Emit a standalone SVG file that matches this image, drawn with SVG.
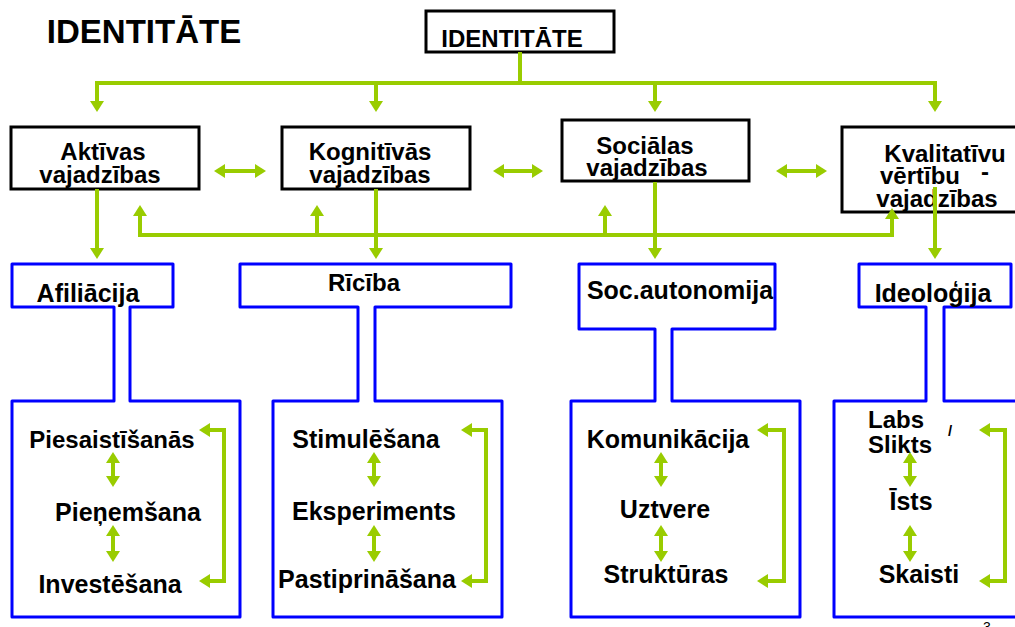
<svg xmlns="http://www.w3.org/2000/svg" width="1015" height="627" viewBox="0 0 1015 627">
<style>
  text { font-family: "Liberation Sans", Arial, sans-serif; font-weight: bold; fill: #000; }
  .t24 { font-size: 24px; }
  .t25 { font-size: 25px; }
  .mid { text-anchor: middle; }
  .bbox { fill: #fff; stroke: #000; stroke-width: 3; }
  .blue { fill: #fff; stroke: #0000ff; stroke-width: 3; stroke-linejoin: round; }
  .g { fill: none; stroke: #99cc00; stroke-width: 4; }
  .ga { fill: none; stroke: #99cc00; stroke-width: 4; marker-end: url(#ah); }
  .gd { fill: none; stroke: #99cc00; stroke-width: 4; marker-start: url(#ah); marker-end: url(#ah); }
</style>
<defs>
  <marker id="ah" markerUnits="userSpaceOnUse" markerWidth="11" markerHeight="14" refX="1" refY="7" orient="auto-start-reverse" viewBox="0 0 11 14">
    <path d="M0,0 L11,7 L0,14 Z" fill="#99cc00"/>
  </marker>
</defs>
<rect width="1015" height="627" fill="#fff"/>

<g id="title">
  <text x="144" y="43" class="mid" style="font-size:33px">IDENTITĀTE</text>
</g>

<g id="identitate">
  <rect x="426" y="11" width="188" height="41" class="bbox"/>
  <text x="512" y="47" class="t24 mid">IDENTITĀTE</text>
</g>

<g id="aktivas">
  <rect x="11" y="127" width="188" height="62" class="bbox"/>
  <text x="103" y="160" class="t24 mid">Aktīvas</text>
  <text x="100" y="183" class="t24 mid">vajadzības</text>
</g>

<g id="kognitivas">
  <rect x="282" y="127" width="188" height="62" class="bbox"/>
  <text x="370" y="160" class="t24 mid">Kognitīvās</text>
  <text x="370" y="183" class="t24 mid">vajadzības</text>
</g>

<g id="socialas">
  <rect x="562" y="120" width="187" height="61" class="bbox"/>
  <text x="645" y="154" class="t24 mid">Sociālas</text>
  <text x="647" y="176" class="t24 mid">vajadzības</text>
</g>

<g id="kvalitativu">
  <rect x="842" y="127" width="180" height="85" class="bbox"/>
  <text x="945" y="162" class="t24 mid">Kvalitatīvu</text>
  <text x="880" y="184" class="t24">vērtību</text>
  <text x="985" y="180" class="t24 mid">-</text>
  <text x="937" y="207" class="t24 mid">vajadzības</text>
</g>

<g id="afiliacija">
  <path d="M12,264 H173 V307 H130 V401 H240 V617 H12 V401 H114 V307 H12 Z" class="blue"/>
  <text x="88" y="302" class="t25 mid">Afiliācija</text>
  <text x="112" y="448" class="t24 mid">Piesaistīšanās</text>
  <text x="128" y="521" class="t25 mid">Pieņemšana</text>
  <text x="110" y="593" class="t25 mid">Investēšana</text>
</g>

<g id="riciba">
  <path d="M240,264 H511 V307 H375 V401 H502 V617 H273 V401 H358 V307 H240 Z" class="blue"/>
  <text x="364" y="291" class="t24 mid">Rīcība</text>
  <text x="366" y="448" class="t25 mid">Stimulēšana</text>
  <text x="374" y="520" class="t25 mid">Eksperiments</text>
  <text x="367" y="588" class="t25 mid">Pastiprināšana</text>
</g>

<g id="socautonomija">
  <path d="M579,264 H775 V329 H672 V401 H800 V617 H571 V401 H655 V329 H579 Z" class="blue"/>
  <text x="680" y="299" class="t25 mid">Soc.autonomija</text>
  <text x="668" y="448" class="t25 mid">Komunikācija</text>
  <text x="665" y="518" class="t25 mid">Uztvere</text>
  <text x="666" y="583" class="t25 mid">Struktūras</text>
</g>

<g id="ideologija">
  <path d="M859,264 H1011 V307 H944 V401 H1022 V617 H834 V401 H926 V307 H859 Z" class="blue"/>
  <text x="933" y="302" class="t25 mid">Ideoloģija</text>
  <text x="868" y="428" class="t24">Labs</text>
  <text x="950" y="436" class="mid" style="font-size:15px">/</text>
  <text x="868" y="453" class="t24">Slikts</text>
  <text x="911" y="510" class="t25 mid">Īsts</text>
  <text x="919" y="583" class="t25 mid">Skaisti</text>
</g>

<g id="connectors">
  <!-- from IDENTITATE -->
  <path d="M520,52 V83" class="g"/>
  <path d="M95,83 H937" class="g"/>
  <path d="M97,83 V102" class="ga"/>
  <path d="M376,83 V102" class="ga"/>
  <path d="M655,83 V102" class="ga"/>
  <path d="M935,83 V102" class="ga"/>
  <!-- between needs -->
  <path d="M224,171 H256" class="gd"/>
  <path d="M503,171 H533" class="gd"/>
  <path d="M786,171 H817" class="gd"/>
  <!-- needs down to categories -->
  <path d="M97,189 V249" class="ga"/>
  <path d="M376,189 V249" class="ga"/>
  <path d="M655,182 V249" class="ga"/>
  <path d="M935,187 V249" class="ga"/>
  <!-- return line -->
  <path d="M140,215 V235 H892 V218" class="gd"/>
  <path d="M317,235 V215" class="ga"/>
  <path d="M605,235 V215" class="ga"/>
  <!-- inner vertical double arrows -->
  <path d="M113,462 V477" class="gd"/>
  <path d="M113,535 V552" class="gd"/>
  <path d="M374,462 V477" class="gd"/>
  <path d="M374,535 V552" class="gd"/>
  <path d="M661,462 V477" class="gd"/>
  <path d="M661,535 V552" class="gd"/>
  <path d="M910,462 V477" class="gd"/>
  <path d="M910,535 V552" class="gd"/>
  <!-- brackets -->
  <path d="M209,430 H224 V581 H209" class="gd"/>
  <path d="M471,430 H486 V581 H471" class="gd"/>
  <path d="M767,430 H784 V581 H767" class="gd"/>
  <path d="M989,430 H1005 V581 H989" class="gd"/>
</g>

<g id="page-number">
  <text x="987" y="632" class="mid" style="font-size:14px;font-weight:normal">3</text>
</g>
</svg>
